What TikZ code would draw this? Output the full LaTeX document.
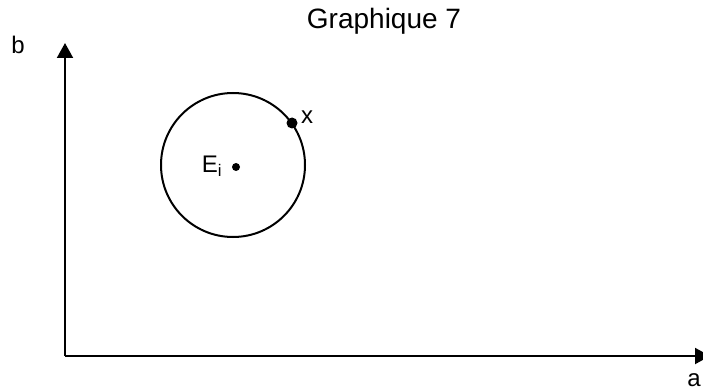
\documentclass[tikz,border=0pt]{standalone}
\usepackage{fontspec}
\setmainfont{Liberation Sans}
\usetikzlibrary{arrows.meta}
\tikzset{
  lbl/.style={inner sep=0pt, font=\fontsize{24}{28}\selectfont},
  ttl/.style={inner sep=0pt, font=\fontsize{28}{32}\selectfont},
  axis/.style={line width=2pt, -{Triangle[length=15pt,width=16pt]}},
  dot/.style={circle, fill=black, inner sep=0pt}
}
\begin{document}
\begin{tikzpicture}[x=1pt,y=-1pt]
\useasboundingbox (0,0) rectangle (703,390);
\coordinate (O) at (65,356);
\coordinate (ytip) at (65,43);
\coordinate (xtip) at (710,356);
\draw[axis] (O) -- (ytip);
\draw[axis] (O) -- (xtip);
\node[ttl] (title) at (384,21) {Graphique 7};
\node[lbl] (b) at (18,45) {b};
\node[lbl] (a) at (694,380) {a};
\node[circle, draw, line width=2pt, minimum size=144pt, inner sep=0pt] (circ) at (233,165) {};
\node[dot, minimum size=8pt] (ctr) at (236,167) {};
\node[dot, minimum size=11pt] (xp) at (292,123) {};
\node[lbl] (xl) at (307,117) {x};
\node[lbl] (ei) at (212,166) {E\textsubscript{i}};
\end{tikzpicture}
\end{document}
